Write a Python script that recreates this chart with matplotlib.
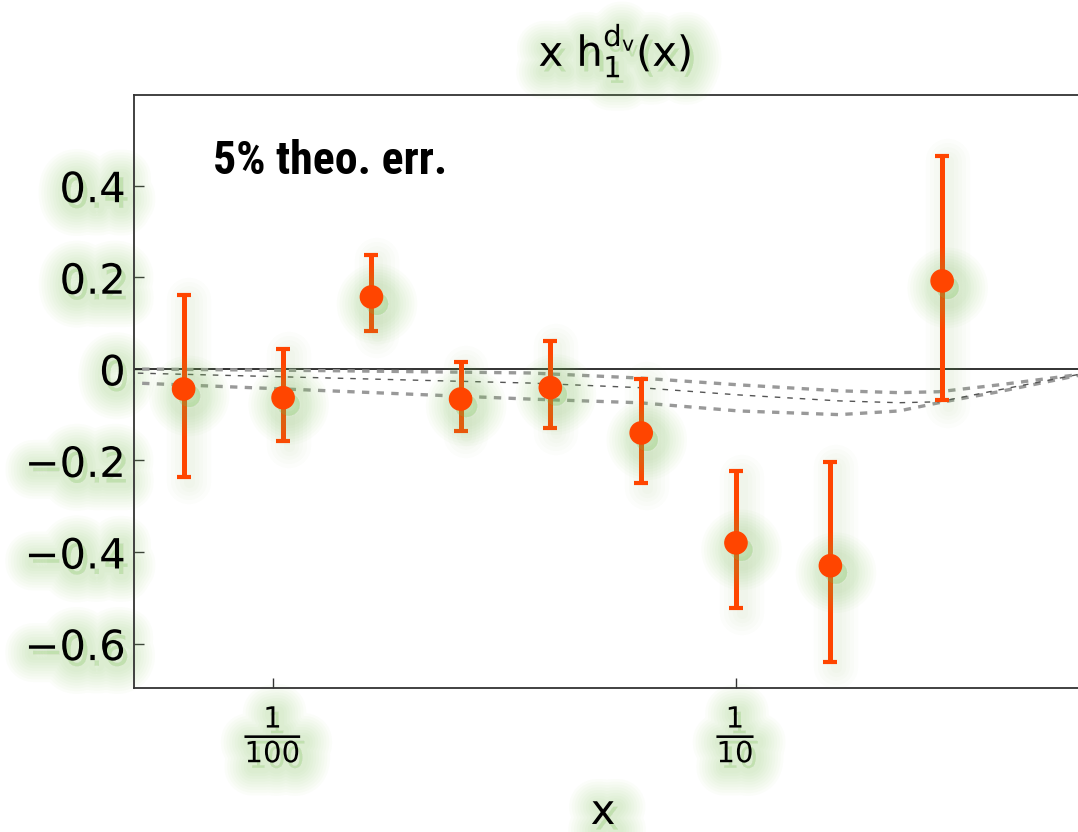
import numpy as np
import matplotlib
matplotlib.use("Agg")
import matplotlib.pyplot as plt
import matplotlib.patheffects as pe
from matplotlib.ticker import NullLocator

# data points (x, value, upper end, lower end of error bar)
x_pts = [0.0064, 0.0105, 0.0163, 0.0254, 0.0397, 0.0624, 0.100, 0.160, 0.279]
y_pts = [-0.044, -0.063, 0.157, -0.066, -0.041, -0.140, -0.380, -0.430, 0.192]
y_hi = [0.162, 0.044, 0.249, 0.015, 0.061, -0.022, -0.223, -0.203, 0.465]
y_lo = [-0.236, -0.157, 0.083, -0.135, -0.129, -0.249, -0.522, -0.640, -0.068]

# dashed model curves (upper band, central, lower band)
x_curve = [0.0045, 0.0132, 0.0357, 0.0617, 0.1015, 0.167, 0.225, 0.2745, 0.370, 0.545, 0.62]
y_upper = [0.000, -0.004, -0.009, -0.020, -0.035, -0.048, -0.052, -0.050, -0.035, -0.013, -0.007]
y_central = [-0.008, -0.020, -0.031, -0.041, -0.057, -0.070, -0.074, -0.072, -0.046, -0.013, -0.007]
y_lower = [-0.029, -0.048, -0.066, -0.074, -0.092, -0.100, -0.092, -0.074, -0.050, -0.015, -0.008]

xticks = [0.01, 0.1]
xticklabels = [r'$\frac{1}{100}$', r'$\frac{1}{10}$']
yticks = [-0.6, -0.4, -0.2, 0.0, 0.2, 0.4]
yticklabels = ['\u22120.6', '\u22120.4', '\u22120.2', '0', '0.2', '0.4']

plt.rcParams['mathtext.fontset'] = 'dejavusans'
plt.rcParams['mathtext.default'] = 'regular'
plt.rcParams['font.family'] = ['DejaVu Sans']

glow_col = (0.50, 0.78, 0.35)


class GlowLayer(pe.AbstractPathEffect):
    """One soft layer of the green halo: stroke and fill in the glow colour."""

    def __init__(self, lw, alpha, offset):
        super().__init__(offset)
        self.lw = lw
        self.alpha = alpha

    def draw_path(self, renderer, gc, tpath, affine, rgbFace=None):
        gc0 = renderer.new_gc()
        gc0.copy_properties(gc)
        gc0.set_foreground(glow_col)
        gc0.set_linewidth(self.lw)
        gc0.set_alpha(self.alpha)
        gc0.set_joinstyle('round')
        gc0.set_capstyle('round')
        gc0.set_dashes(0, None)
        face = glow_col if rgbFace is not None else None
        renderer.draw_path(gc0, tpath, affine + self._offset_transform(renderer), face)
        gc0.restore()


def glow(widths=range(8, 44, 4), alpha=0.03, off=(3, -4)):
    return [GlowLayer(w, alpha, off) for w in widths] + [pe.Normal()]


fig = plt.figure(figsize=(10.78, 8.32), dpi=100)
ax = fig.add_axes([134 / 1078, 144 / 832, 962 / 1078, 593 / 832])

ax.set_xscale('log')
ax.set_xlim(0.005, 0.6)
ax.set_ylim(-0.697, 0.598)

ax.axhline(0, color='#222222', lw=1.3, zorder=2)

ax.plot(x_curve, y_upper, color='#999999', lw=2.4, ls=(0, (2.2, 2.2)), zorder=2)
ax.plot(x_curve, y_lower, color='#999999', lw=2.4, ls=(0, (2.2, 2.2)), zorder=2)
ax.plot(x_curve, y_central, color='#555555', lw=1.0, ls=(0, (4, 5)), zorder=2)

yerr = [np.array(y_pts) - np.array(y_lo), np.array(y_hi) - np.array(y_pts)]
eb = ax.errorbar(x_pts, y_pts, yerr=yerr, fmt='o', color='#FF4500', ms=16,
                 elinewidth=3.6, capsize=5, capthick=3, zorder=3)
eb[0].set_path_effects(glow(widths=range(6, 46, 4), alpha=0.03, off=(4, -5)))
for c in eb[2]:
    c.set_path_effects(glow(widths=range(8, 34, 6), alpha=0.022, off=(4, -4)))

ax.xaxis.set_minor_locator(NullLocator())
ax.set_xticks(xticks, xticklabels)
ax.set_yticks(yticks, yticklabels)
ax.tick_params(direction='in', length=7, width=1, labelsize=30, color='#333333')
ax.tick_params(axis='x', pad=12)
ax.tick_params(axis='y', pad=6)
for lbl in ax.get_xticklabels() + ax.get_yticklabels():
    lbl.set_path_effects(glow())

for s in ax.spines.values():
    s.set_color('#333333')
    s.set_linewidth(1.3)

ax.text(0.082, 0.888, '5% theo. err.', transform=ax.transAxes,
        family=['Roboto Condensed', 'Liberation Sans Narrow', 'DejaVu Sans'],
        stretch='condensed', weight='bold',
        fontsize=33, ha='left', va='center')

fig.text(615 / 1078, 1 - 50 / 832, r'x $h_1^{d_v}$(x)', fontsize=30,
         ha='center', va='center', path_effects=glow())
fig.text(603 / 1078, 1 - 812 / 832, 'x', fontsize=30,
         ha='center', va='center', path_effects=glow())

fig.savefig('out.png', dpi=100)
